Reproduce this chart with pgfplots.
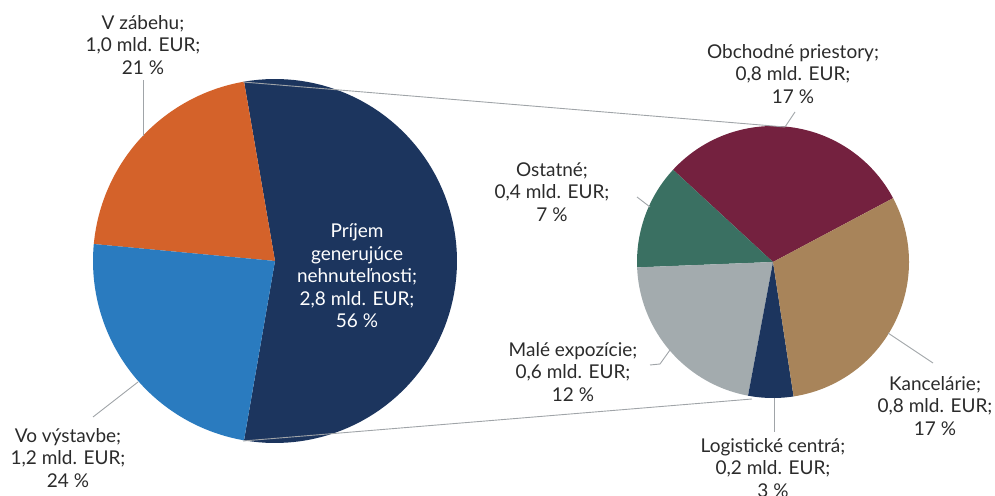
\documentclass[border=0pt]{standalone}
\usepackage{pgfplots}
\pgfplotsset{compat=1.18}
\usepackage{fontspec}
\setmainfont{Lato}
\definecolor{cnavy}{HTML}{1C355E}
\definecolor{corange}{HTML}{D4622A}
\definecolor{cblue}{HTML}{2A7BBF}
\definecolor{cmaroon}{HTML}{74213F}
\definecolor{cbrown}{HTML}{A8845A}
\definecolor{cteal}{HTML}{3A7062}
\definecolor{cgray}{HTML}{A3ABAE}
\definecolor{ctext}{HTML}{2B2B2B}
\definecolor{cline}{HTML}{A0A4A8}
\tikzset{lbl/.style={font=\fontsize{19}{22.5}\selectfont, text=ctext, align=center, inner sep=0pt}}
\begin{document}
\begin{tikzpicture}
% left pie data (shares, %)
\def\vA{56}\def\vB{24}\def\vC{21}
\pgfmathsetmacro{\tL}{\vA+\vB+\vC}
\pgfmathsetmacro{\aA}{-0.5*\vA/\tL*360}
\pgfmathsetmacro{\aB}{\aA+\vA/\tL*360}
\pgfmathsetmacro{\aC}{\aB+\vC/\tL*360}
\pgfmathsetmacro{\aD}{\aC+\vB/\tL*360}
% right pie data (shares, %)
\def\rA{17}\def\rB{7}\def\rC{12}\def\rD{3}\def\rE{17}
\pgfmathsetmacro{\tR}{\rA+\rB+\rC+\rD+\rE}
\pgfmathsetmacro{\bA}{28}
\pgfmathsetmacro{\bB}{\bA+\rA/\tR*360}
\pgfmathsetmacro{\bC}{\bB+\rB/\tR*360}
\pgfmathsetmacro{\bD}{\bC+\rC/\tR*360}
\pgfmathsetmacro{\bE}{\bD+\rD/\tR*360}
\pgfmathsetmacro{\bF}{\bE+\rE/\tR*360}
\begin{axis}[
  scale only axis, width=995pt, height=495pt,
  xmin=0, xmax=995, ymin=0, ymax=495,
  hide axis, clip=false,
  every axis plot/.append style={samples=90, line width=0pt},
]
% left pie: centre (275,234), r=182
\addplot[fill=cnavy, draw=none, domain=\aA:\aB] ({275+182*cos(x)},{234+182*sin(x)}) -- (axis cs:275,234) -- cycle;
\addplot[fill=corange, draw=none, domain=\aB:\aC] ({275+182*cos(x)},{234+182*sin(x)}) -- (axis cs:275,234) -- cycle;
\addplot[fill=cblue, draw=none, domain=\aC:\aD] ({275+182*cos(x)},{234+182*sin(x)}) -- (axis cs:275,234) -- cycle;
% right pie: centre (773,233), r=136
\addplot[fill=cmaroon, draw=none, domain=\bA:\bB] ({773+136*cos(x)},{233+136*sin(x)}) -- (axis cs:773,233) -- cycle;
\addplot[fill=cteal, draw=none, domain=\bB:\bC] ({773+136*cos(x)},{233+136*sin(x)}) -- (axis cs:773,233) -- cycle;
\addplot[fill=cgray, draw=none, domain=\bC:\bD] ({773+136*cos(x)},{233+136*sin(x)}) -- (axis cs:773,233) -- cycle;
\addplot[fill=cnavy, draw=none, domain=\bD:\bE] ({773+136*cos(x)},{233+136*sin(x)}) -- (axis cs:773,233) -- cycle;
\addplot[fill=cbrown, draw=none, domain=\bE:\bF] ({773+136*cos(x)},{233+136*sin(x)}) -- (axis cs:773,233) -- cycle;
% connectors
\addplot[cline, line width=0.9pt] coordinates {(243,413) (785,368)};
\addplot[cline, line width=0.9pt] coordinates {(243,54) (752,96)};
% leader lines
\addplot[cline, line width=0.9pt] coordinates {(143,415) (143,359)};
\addplot[cline, line width=0.9pt] coordinates {(795,383) (785,368)};
\addplot[cline, line width=0.9pt] coordinates {(637,298) (650,288)};
\addplot[cline, line width=0.9pt] coordinates {(650,130) (660,131) (670,145)};
\addplot[cline, line width=0.9pt] coordinates {(888,162) (933,132)};
\addplot[cline, line width=0.9pt] coordinates {(774,97) (774,63)};
\addplot[cline, line width=0.9pt] coordinates {(93,78) (138,113)};
% labels (centre of middle line)
\node[lbl] at (axis cs:143,450) {V zábehu;\\1,0 mld. EUR;\\21 \%};
\node[lbl, text=white] at (axis cs:357,219) {Príjem\\generujúce\\nehnuteľnosti;\\2,8 mld. EUR;\\56 \%};
\node[lbl] at (axis cs:793,421) {Obchodné priestory;\\0,8 mld. EUR;\\17 \%};
\node[lbl] at (axis cs:552,303) {Ostatné;\\0,4 mld. EUR;\\7 \%};
\node[lbl] at (axis cs:573,123) {Malé expozície;\\0,6 mld. EUR;\\12 \%};
\node[lbl] at (axis cs:935,89) {Kancelárie;\\0,8 mld. EUR;\\17 \%};
\node[lbl] at (axis cs:773,27) {Logistické centrá;\\0,2 mld. EUR;\\3 \%};
\node[lbl] at (axis cs:68,37) {Vo výstavbe;\\1,2 mld. EUR;\\24 \%};
\end{axis}
\pgfresetboundingbox
\path (0,0) rectangle (995pt,495pt);
\end{tikzpicture}
\end{document}
